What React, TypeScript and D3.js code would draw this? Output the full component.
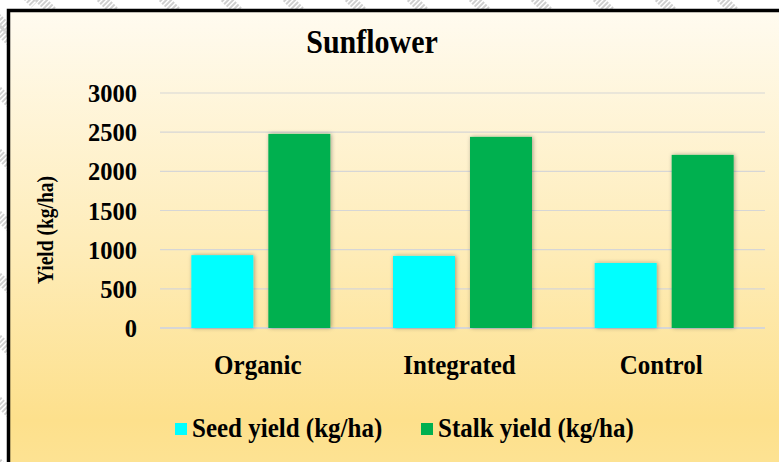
import React, { useEffect, useRef } from 'react';
import * as d3 from 'd3';

const categories = ['Organic', 'Integrated', 'Control'];
const seriesNames = ['Seed yield (kg/ha)', 'Stalk yield (kg/ha)'];
const seedYield = [930, 920, 830];
const stalkYield = [2478, 2440, 2210];
const yTicks = [0, 500, 1000, 1500, 2000, 2500, 3000];
const seriesColors = ['#00ffff', '#00b050'];

const W = 779;
const H = 462;
const FONT = '"Liberation Serif", "Times New Roman", serif';

const App = () => {
  const svgRef = useRef<SVGSVGElement>(null);

  useEffect(() => {
    const svg = d3.select(svgRef.current);
    svg.selectAll('*').remove();

    const defs = svg.append('defs');
    const grad = defs.append('linearGradient')
      .attr('id', 'bg').attr('x1', 0).attr('y1', 0).attr('x2', 0).attr('y2', 1);
    grad.append('stop').attr('offset', '0%').attr('stop-color', '#fffbf0');
    grad.append('stop').attr('offset', '50%').attr('stop-color', '#feecb8');
    grad.append('stop').attr('offset', '85%').attr('stop-color', '#fde08c');
    grad.append('stop').attr('offset', '100%').attr('stop-color', '#fde497');

    const shadow = defs.append('filter').attr('id', 'shadow')
      .attr('x', '-20%').attr('y', '-10%').attr('width', '140%').attr('height', '120%');
    shadow.append('feDropShadow')
      .attr('dx', 1).attr('dy', 0).attr('stdDeviation', 2)
      .attr('flood-color', '#000').attr('flood-opacity', 0.35);

    // faint diagonal watermark outside the frame
    const marks = svg.append('g').attr('stroke', '#cfcfcf').attr('stroke-width', 10)
      .attr('stroke-dasharray', '2 1.5');
    d3.range(-460, 800, 62).forEach(c => {
      marks.append('line').attr('x1', c).attr('y1', -5).attr('x2', c + 40).attr('y2', 35);
      marks.append('line').attr('x1', -5).attr('y1', -c).attr('x2', 35).attr('y2', -c + 40);
    });

    // chart frame
    svg.append('rect')
      .attr('x', 8.5).attr('y', 10.5).attr('width', W + 20).attr('height', H + 20)
      .attr('fill', 'url(#bg)').attr('stroke', '#000').attr('stroke-width', 3.5);

    const x0 = d3.scaleBand().domain(categories).range([160, 765]);
    const x1 = d3.scaleBand().domain(seriesNames).range([0, x0.bandwidth()])
      .paddingInner(0.195).paddingOuter(0.407);
    const y = d3.scaleLinear().domain([0, 3000]).range([328, 93]);

    // gridlines
    svg.append('g').selectAll('line').data(yTicks).join('line')
      .attr('x1', 160).attr('x2', 765)
      .attr('y1', d => y(d)).attr('y2', d => y(d))
      .attr('stroke', '#d6d6d6').attr('stroke-width', d => (d === 0 ? 2 : 1.2));

    // y tick labels
    svg.append('g').selectAll('text').data(yTicks).join('text')
      .attr('transform', d => `translate(137,${y(d)}) scale(1,1.06)`).attr('dy', '0.35em')
      .attr('text-anchor', 'end')
      .attr('font-family', FONT).attr('font-weight', 'bold').attr('font-size', 24.5)
      .text(d => d);

    // bars
    const rows = categories.map((c, i) => ({ c, vals: [seedYield[i], stalkYield[i]] }));
    svg.append('g').selectAll('g').data(rows).join('g')
      .attr('transform', d => `translate(${x0(d.c)},0)`)
      .selectAll('rect')
      .data(d => d.vals.map((v, j) => ({ v, s: seriesNames[j], j })))
      .join('rect')
      .attr('x', d => x1(d.s))
      .attr('width', x1.bandwidth())
      .attr('y', d => y(d.v))
      .attr('height', d => y(0) - y(d.v))
      .attr('fill', d => seriesColors[d.j])
      .attr('filter', 'url(#shadow)');

    // category labels
    svg.append('g').selectAll('text').data(categories).join('text')
      .attr('transform', d => `translate(${x0(d) + x0.bandwidth() / 2 - 3},374) scale(1,1.06)`)
      .attr('text-anchor', 'middle')
      .attr('font-family', FONT).attr('font-weight', 'bold').attr('font-size', 25)
      .text(d => d);

    // title
    svg.append('text')
      .attr('transform', 'translate(372,53) scale(1,1.1)').attr('text-anchor', 'middle')
      .attr('font-family', FONT).attr('font-weight', 'bold').attr('font-size', 30)
      .text('Sunflower');

    // y axis title
    svg.append('text')
      .attr('transform', 'translate(53,230) rotate(-90) scale(1,1.18)')
      .attr('text-anchor', 'middle')
      .attr('font-family', FONT).attr('font-weight', 'bold').attr('font-size', 19.5)
      .text('Yield (kg/ha)');

    // legend
    const legendX = [175, 421];
    const legend = svg.append('g').selectAll('g').data(seriesNames).join('g')
      .attr('transform', (d, i) => `translate(${legendX[i]},423)`);
    legend.append('rect').attr('width', 12).attr('height', 12)
      .attr('fill', (d, i) => seriesColors[i]);
    legend.append('text').attr('transform', 'translate(17,14) scale(1,1.05)')
      .attr('font-family', FONT).attr('font-weight', 'bold').attr('font-size', 25)
      .text(d => d);
  }, []);

  return (
    <svg ref={svgRef} width={W} height={H}
      style={{ position: 'absolute', left: 0, top: 0, background: '#fff' }} />
  );
};

export default App;
